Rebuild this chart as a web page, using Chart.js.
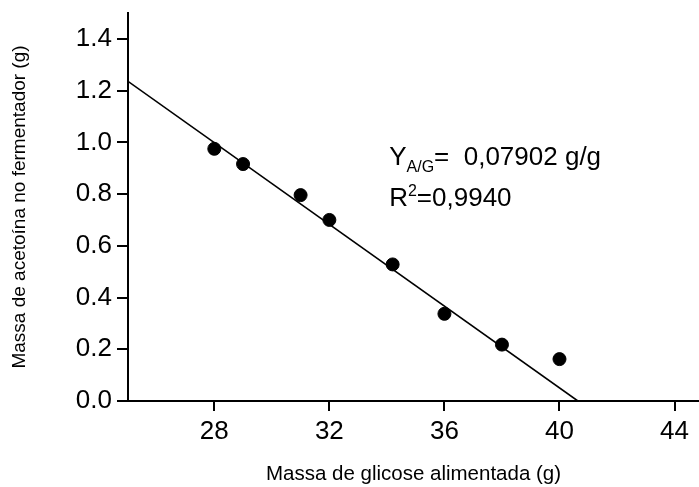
<!DOCTYPE html>
<html>
<head>
<meta charset="utf-8">
<script src="https://cdn.jsdelivr.net/npm/chart.js@4/dist/chart.umd.min.js"></script>
<style>
  html, body { margin: 0; padding: 0; background: #fff; overflow: hidden; }
  #wrap { width: 699px; height: 487px; position: relative; }
</style>
</head>
<body>
<div id="wrap"><canvas id="c"></canvas></div>
<script>
// ---- data ----
const glucose = [28, 29, 31, 32, 34.2, 36, 38, 40];           // Massa de glicose alimentada (g)
const acetoin = [0.975, 0.916, 0.796, 0.700, 0.528, 0.337, 0.218, 0.162]; // Massa de acetoína (g)
const fitX = [25, 40.64];
const fitY = [1.236, 0];
const xTicks = [28, 32, 36, 40, 44];
const yTicks = [0, 0.2, 0.4, 0.6, 0.8, 1.0, 1.2, 1.4];
const xTitle = 'Massa de glicose alimentada (g)';
const yTitle = 'Massa de acetoína no fermentador (g)';
const yieldText = { main: 'Y', sub: 'A/G', rest: '=  0,07902 g/g' };
const r2Text = { main: 'R', sup: '2', rest: '=0,9940' };

const FONT = '"Liberation Sans", Arial, sans-serif';

const annotationPlugin = {
  id: 'eqText',
  afterDatasetsDraw(chart) {
    const { ctx, scales: { x, y } } = chart;
    const big = 26, small = 16;
    ctx.save();
    ctx.fillStyle = '#000';
    ctx.textBaseline = 'alphabetic';
    ctx.textAlign = 'left';
    // line 1
    let px = x.getPixelForValue(34.08);
    let py = y.getPixelForValue(0.913);
    ctx.font = big + 'px ' + FONT;
    ctx.fillText(yieldText.main, px, py);
    px += ctx.measureText(yieldText.main).width;
    ctx.font = small + 'px ' + FONT;
    ctx.fillText(yieldText.sub, px, py + 7);
    px += ctx.measureText(yieldText.sub).width;
    ctx.font = big + 'px ' + FONT;
    ctx.fillText(yieldText.rest, px, py);
    // line 2
    px = x.getPixelForValue(34.08);
    py = y.getPixelForValue(0.754);
    ctx.fillText(r2Text.main, px, py);
    px += ctx.measureText(r2Text.main).width;
    ctx.font = small + 'px ' + FONT;
    ctx.fillText(r2Text.sup, px, py - 10);
    px += ctx.measureText(r2Text.sup).width;
    ctx.font = big + 'px ' + FONT;
    ctx.fillText(r2Text.rest, px, py);
    ctx.restore();
  }
};

new Chart(document.getElementById('c'), {
  type: 'scatter',
  data: {
    datasets: [
      {
        label: 'dados',
        data: glucose.map((g, i) => ({ x: g, y: acetoin[i] })),
        backgroundColor: '#000',
        borderColor: '#000',
        pointRadius: 6.5,
        pointHoverRadius: 6.5
      },
      {
        label: 'ajuste',
        type: 'line',
        data: fitX.map((g, i) => ({ x: g, y: fitY[i] })),
        borderColor: '#000',
        borderWidth: 1.6,
        pointRadius: 0,
        fill: false,
        tension: 0
      }
    ]
  },
  options: {
    responsive: true,
    maintainAspectRatio: false,
    animation: false,
    devicePixelRatio: 1,
    layout: { autoPadding: false, padding: { top: 13, right: 0, bottom: 0, left: 0 } },
    plugins: { legend: { display: false }, tooltip: { enabled: false } },
    scales: {
      x: {
        type: 'linear',
        min: 25, max: 44.85,
        afterBuildTicks: s => { s.ticks = xTicks.map(v => ({ value: v })); },
        afterFit: s => { s.height = 86; s.paddingLeft = 0; s.paddingRight = 0; },
        grid: { drawOnChartArea: false, drawTicks: true, tickLength: 10, color: '#000', lineWidth: 2 },
        border: { display: true, color: '#000', width: 2 },
        ticks: { color: '#000', font: { family: FONT, size: 26 }, padding: 5, maxRotation: 0 },
        title: { display: true, text: xTitle, color: '#000', font: { family: FONT, size: 20.5 }, padding: { top: 0, bottom: 0 } }
      },
      y: {
        type: 'linear',
        min: 0, max: 1.5,
        afterBuildTicks: s => { s.ticks = yTicks.map(v => ({ value: v })); },
        afterFit: s => { s.width = 128; s.paddingTop = 0; s.paddingBottom = 0; },
        grid: { drawOnChartArea: false, drawTicks: true, tickLength: 11, color: '#000', lineWidth: 2 },
        border: { display: true, color: '#000', width: 2 },
        ticks: { color: '#000', font: { family: FONT, size: 26 }, padding: 5, callback: v => Number(v).toFixed(1) },
        title: { display: true, text: yTitle, color: '#000', font: { family: FONT, size: 19 }, padding: { top: 8, bottom: 0 } }
      }
    }
  },
  plugins: [annotationPlugin]
});
</script>
</body>
</html>
